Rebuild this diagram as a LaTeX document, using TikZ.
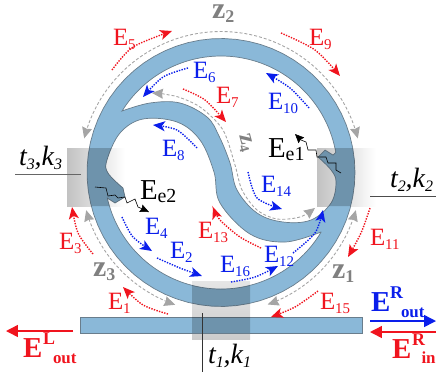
\documentclass[tikz,border=0pt]{standalone}
\usepackage{fontspec}
\setmainfont{Liberation Serif}
\usetikzlibrary{arrows.meta}
\definecolor{wg}{RGB}{138,184,216}
\definecolor{wgedge}{RGB}{105,125,140}
\definecolor{zgray}{RGB}{128,128,128}
\definecolor{dgray}{RGB}{165,165,165}
\definecolor{myred}{RGB}{240,20,30}
\definecolor{myblue}{RGB}{10,30,235}
\tikzset{
  reddot/.style={myred,line width=1.4pt,dash pattern=on 1.4pt off 1.3pt,-{Stealth[length=12pt,width=10pt,inset=3pt]}},
  bluedot/.style={myblue,line width=1.4pt,dash pattern=on 1.4pt off 1.3pt,-{Stealth[length=12pt,width=10pt,inset=3pt]}},
  graydash/.style={dgray,line width=.9pt,dash pattern=on 3pt off 2pt,{Stealth[length=11pt,width=10pt,inset=1pt]}-{Stealth[length=11pt,width=10pt,inset=1pt]}},
  wave/.style={black,line width=.6pt,-{Stealth[length=9pt,width=8pt,inset=1pt]}},
  lbl/.style={anchor=base west,inner sep=0pt,outer sep=0pt},
  thinline/.style={line width=.7pt},
  bigarrow/.style={line width=1.5pt,-{Stealth[length=12pt,width=12pt,inset=0pt]}}
}
\newcommand{\Elab}[5]{\node[lbl,text=#4] (#1) at (#2,#3) {\fontsize{25}{25}\selectfont E\raisebox{-5pt}{\fontsize{15}{15}\selectfont #5}};}
\newcommand{\Zlab}[4]{\node[lbl,text=zgray] (#1) at (#2,#3) {\fontsize{30}{30}\selectfont\bfseries z\raisebox{-5pt}{\fontsize{18}{18}\selectfont #4}};}
\newcommand{\Tlab}[4]{\node[lbl] (#1) at (#2,#3) {\fontsize{28}{28}\selectfont\itshape t\raisebox{-5pt}{\fontsize{16}{16}\selectfont #4},k\raisebox{-5pt}{\fontsize{16}{16}\selectfont #4}};}
\newcommand{\myarc}[3]{plot[domain=#1:#2,samples=70] ({221+#3*cos(\x)},{172.5-#3*sin(\x)})}
\newcommand{\ringshape}{
  \myarc{0}{360}{134} -- cycle
  \myarc{10}{148}{116.5} -- plot[smooth,tension=.6] coordinates {(122,111) (150,103) (180,103) (207,117) (219,136) (230,163) (237,190) (257,213) (283,222) (311,220) (331,203) (336,182) (331,170) (318,157)} -- (325,150) -- (333,155) -- cycle
  \myarc{-30.8}{-167.3}{116.5} -- (115,203) -- (125,197) -- plot[smooth,tension=.6] coordinates {(123,188) (108,173) (107,160) (120,133) (143,119) (177,122) (200,140) (214,172) (220,203) (250,234) (285,242) (321,232)} -- cycle
}
\begin{document}
\begin{tikzpicture}[x=1bp,y=-1bp]
\useasboundingbox (0,0) rectangle (436,379);
% coupler shades
\shade[left color=black!24,right color=white] (67,148) rectangle (125,206);
\shade[left color=black!24,right color=white] (317,148) rectangle (376,206);
\shade[top color=black!10,bottom color=black!20] (192,281) rectangle (250,339);
% waveguides
\fill[wg,even odd rule] \ringshape;
\draw[wgedge,line width=.7pt] \ringshape;
\path[fill=wg,draw=wgedge,line width=.7pt] (80,317) rectangle (362,333);
% darkened couplers
\begin{scope}
\clip (67,148) rectangle (125,206) (317,148) rectangle (376,206) (192,281) rectangle (250,339);
\fill[black,opacity=.2,even odd rule] \ringshape;
\fill[black,opacity=.2] (80,317) rectangle (362,333);
\end{scope}
% gray dashed paths
\draw[graydash] \myarc{14}{166}{141};
\draw[graydash] \myarc{195.6}{250.9}{140};
\draw[graydash] \myarc{-70.5}{-15.6}{140};
\draw[graydash] plot[smooth] coordinates {(152,93) (175,96) (200,107) (223,130) (235,165) (242,190) (257,210) (277,219) (300,217) (315,208)};
% dotted field arrows
\draw[reddot] plot[smooth] coordinates {(112,70) (133,47) (172,31)};
\draw[reddot] plot[smooth] coordinates {(281,33) (315,50) (340,76)};
\draw[bluedot] plot[smooth] coordinates {(188,68) (163,77) (143,97)};
\draw[reddot] plot[smooth] coordinates {(183,89) (205,100) (226,122)};
\draw[bluedot] plot[smooth] coordinates {(197,148) (177,130) (153,125)};
\draw[bluedot] plot[smooth] coordinates {(309,108) (290,88) (266,73)};
\draw[bluedot] plot[smooth] coordinates {(248,172) (257,198) (282,209)};
\draw[reddot] plot[smooth] coordinates {(261,248) (240,237) (220,220) (213,207)};
\draw[bluedot] plot[smooth] coordinates {(293,253) (315,233) (323,210)};
\draw[bluedot] plot[smooth] coordinates {(231,282) (255,277) (278,266)};
\draw[bluedot] plot[smooth] coordinates {(157,258) (180,268) (202,276)};
\draw[bluedot] plot[smooth] coordinates {(122,217) (133,237) (152,251)};
\draw[reddot] plot[smooth] coordinates {(93,254) (78,233) (72,207)};
\draw[reddot] plot[smooth] coordinates {(168,314) (143,305) (123,287)};
\draw[reddot] plot[smooth] coordinates {(370,208) (361,233) (348,257)};
\draw[reddot] plot[smooth] coordinates {(318,291) (295,307) (271,317)};
% emission waves
\coordinate (w1s) at (341,173); \coordinate (w1e) at (295,134);
\coordinate (w2s) at (95,187); \coordinate (w2e) at (149,212);
\draw[wave] (w1s) -- (336,170) -- (336,163) -- (328,163) -- (326,157) -- (317,157) -- (316,150) -- (308,150) -- (306,142) -- (301,140) -- (w1e);
\draw[wave] (w2s) -- (106,188) -- (108,196) -- (115,195) -- (118,198) -- (125,197) -- (127,203) -- (135,199) -- (138,207) -- (w2e);
% labels
\Elab{e5}{113}{45}{myred}{5}
\Elab{e6}{193}{78}{myblue}{6}
\Elab{e7}{216}{103}{myred}{7}
\Elab{e8}{162}{156}{myblue}{8}
\Elab{e9}{309}{45}{myred}{9}
\Elab{e10}{268}{109}{myblue}{10}
\Elab{e14}{261}{192}{myblue}{14}
\Elab{e4}{145}{234}{myblue}{4}
\Elab{e2}{170}{258}{myblue}{2}
\Elab{e3}{59}{249}{myred}{3}
\Elab{e1}{108}{309}{myred}{1}
\Elab{e13}{198}{238}{myred}{13}
\Elab{e16}{220}{272}{myblue}{16}
\Elab{e12}{264}{262}{myblue}{12}
\Elab{e11}{370}{245}{myred}{11}
\Elab{e15}{320}{309}{myred}{15}
\node[lbl] (ee1) at (268,157) {\fontsize{29}{29}\selectfont E\raisebox{-4pt}{\fontsize{20}{20}\selectfont e1}};
\node[lbl] (ee2) at (140,199) {\fontsize{29}{29}\selectfont E\raisebox{-4pt}{\fontsize{20}{20}\selectfont e2}};
\Zlab{z2}{212}{18}{2}
\Zlab{z3}{93}{276}{3}
\Zlab{z1}{332}{278}{1}
\node[lbl,text=zgray,rotate=-75] (z4) at (239,135) {\fontsize{24}{24}\selectfont\bfseries z\raisebox{-3pt}{\fontsize{14}{14}\selectfont 4}};
\Tlab{t3}{19}{165}{3}
\Tlab{t2}{390}{187}{2}
\Tlab{t1}{208}{363}{1}
% tie lines
\coordinate (a3) at (15,174); \coordinate (b3) at (81,174);
\coordinate (a2) at (370,196); \coordinate (b2) at (436,196);
\coordinate (a1) at (202,313); \coordinate (b1) at (202,372);
\draw[thinline,black!60] (a3) -- (b3);
\draw[thinline,black!70] (a2) -- (b2);
\draw[thinline,black!80] (a1) -- (b1);
% port arrows
\coordinate (pl1) at (73,331); \coordinate (pl2) at (6,331);
\coordinate (pr1) at (370,321); \coordinate (pr2) at (436,321);
\coordinate (pi1) at (436,332); \coordinate (pi2) at (370,332);
\draw[bigarrow,myred] (pl1) -- (pl2);
\draw[bigarrow,myblue] (pr1) -- (pr2);
\draw[bigarrow,myred] (pi1) -- (pi2);
\node[lbl,text=myblue] (eout) at (371,311) {\fontsize{29}{29}\selectfont\bfseries E};
\node[lbl,text=myblue] (rout) at (390,298) {\fontsize{18}{18}\selectfont\bfseries R};
\node[lbl,text=myblue] (sout) at (401,317) {\fontsize{17}{17}\selectfont\bfseries out};
\node[lbl,text=myred] (ein) at (392,358) {\fontsize{29}{29}\selectfont\bfseries E};
\node[lbl,text=myred] (rin) at (412,345) {\fontsize{18}{18}\selectfont\bfseries R};
\node[lbl,text=myred] (sin) at (421.5,363) {\fontsize{17}{17}\selectfont\bfseries in};
\node[lbl,text=myred] (elo) at (23,357) {\fontsize{29}{29}\selectfont\bfseries E};
\node[lbl,text=myred] (lup) at (43,344) {\fontsize{18}{18}\selectfont\bfseries L};
\node[lbl,text=myred] (slo) at (53,363) {\fontsize{17}{17}\selectfont\bfseries out};
\end{tikzpicture}
\end{document}
